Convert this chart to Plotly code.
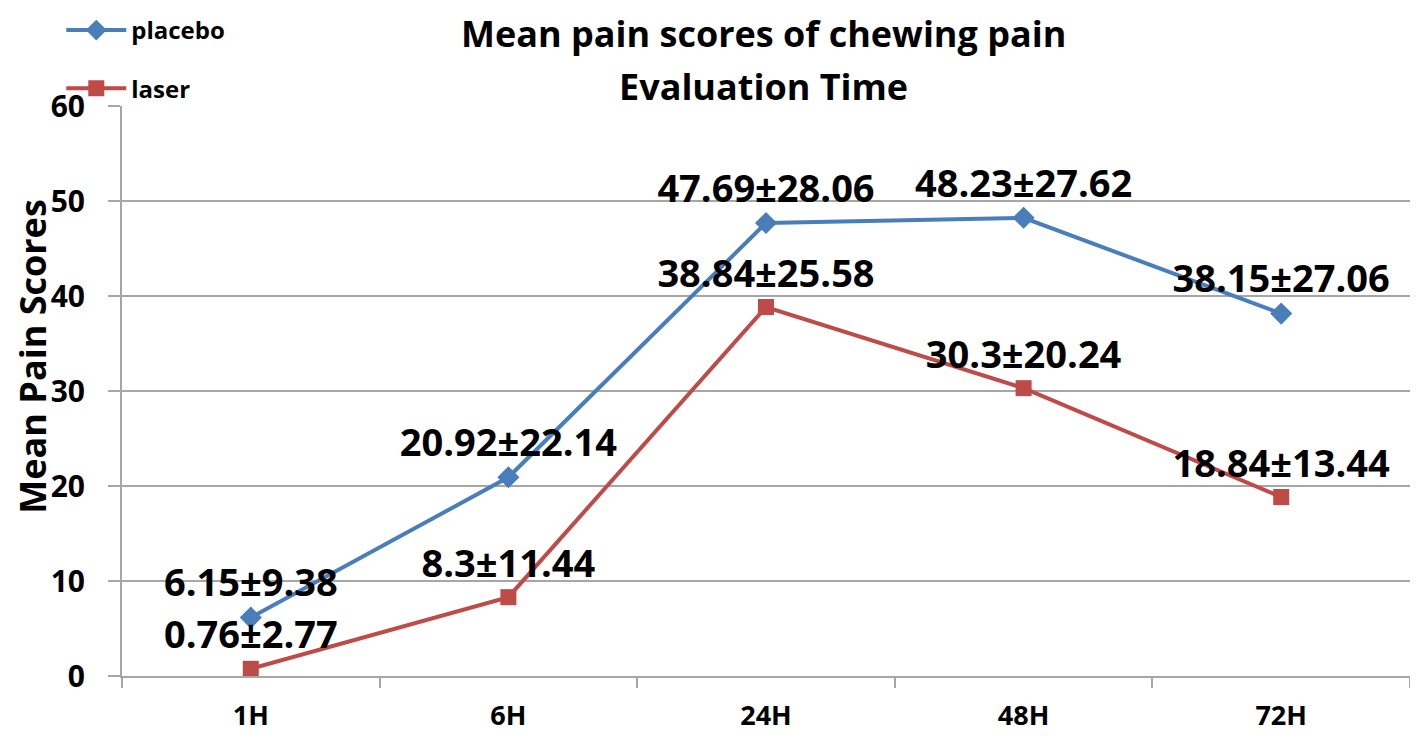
import plotly.graph_objects as go

categories = ["1H", "6H", "24H", "48H", "72H"]
placebo_mean = [6.15, 20.92, 47.69, 48.23, 38.15]
placebo_sd = [9.38, 22.14, 28.06, 27.62, 27.06]
laser_mean = [0.76, 8.3, 38.84, 30.3, 18.84]
laser_sd = [2.77, 11.44, 25.58, 20.24, 13.44]

def fmt(v):
    return ("%g" % v)

placebo_text = [f"{fmt(m)}±{fmt(s)}" for m, s in zip(placebo_mean, placebo_sd)]
laser_text = [f"{fmt(m)}±{fmt(s)}" for m, s in zip(laser_mean, laser_sd)]

FONT = "Open Sans"
label_font = dict(family=FONT, size=38, color="black", weight="bold")

fig = go.Figure()
fig.add_trace(go.Scatter(
    x=categories, y=placebo_mean, name="placebo", mode="lines+markers+text",
    line=dict(color="#4A7EBB", width=4),
    marker=dict(symbol="diamond", size=17, color="#4A7EBB"),
    text=placebo_text, textposition="top center", textfont=label_font,
    legendgroup="p", cliponaxis=False,
))
fig.add_trace(go.Scatter(
    x=categories, y=laser_mean, name="laser", mode="lines+markers+text",
    line=dict(color="#BE4B48", width=4),
    marker=dict(symbol="square", size=16, color="#BE4B48"),
    text=laser_text, textposition="top center", textfont=label_font,
    legendgroup="l", cliponaxis=False,
))

fig.update_layout(
    width=1402, height=724,
    margin=dict(l=114, r=0, t=98, b=56, autoexpand=False),
    paper_bgcolor="white", plot_bgcolor="white",
    showlegend=True,
    legend=dict(font=dict(family=FONT, size=24, color="black", weight="bold"),
                bgcolor="rgba(0,0,0,0)", xref="container", yref="container",
                x=0.038, y=1.024, xanchor="left", yanchor="top", itemwidth=60,
                tracegroupgap=24, orientation="v"),
    xaxis=dict(type="category", showgrid=False, showline=True, linecolor="#A6A6A6", linewidth=2,
               ticks="outside", tickson="boundaries", ticklen=10, tickcolor="#A6A6A6", tickwidth=2,
               tickfont=dict(family=FONT, size=27, color="black", weight="bold"),
               ticklabelstandoff=15, automargin=False,
               range=[-0.5, 4.5]),
    yaxis=dict(range=[0, 60], dtick=10, showgrid=True, gridcolor="#A6A6A6", gridwidth=2,
               showline=True, linecolor="#A6A6A6", linewidth=2,
               ticks="outside", ticklen=12, tickcolor="#A6A6A6", tickwidth=2,
               zeroline=False, automargin=False, ticklabelstandoff=17,
               tickfont=dict(family=FONT, size=30, color="black", weight="bold")),
    annotations=[
        dict(text="Mean pain scores of chewing pain", xref="paper", yref="paper",
             x=0.4977, y=1.128, xanchor="center", yanchor="middle", showarrow=False,
             font=dict(family=FONT, size=36, color="black", weight="bold")),
        dict(text="Evaluation Time", xref="paper", yref="paper",
             x=0.4977, y=1.035, xanchor="center", yanchor="middle", showarrow=False,
             font=dict(family=FONT, size=36, color="black", weight="bold")),
        dict(text="Mean Pain Scores", xref="paper", yref="paper",
             x=-0.0692, y=0.56, xanchor="center", yanchor="middle", showarrow=False,
             textangle=-90, borderpad=0,
             font=dict(family=FONT, size=36, color="black", weight="bold")),
    ],
)

fig.write_html("out.html")
